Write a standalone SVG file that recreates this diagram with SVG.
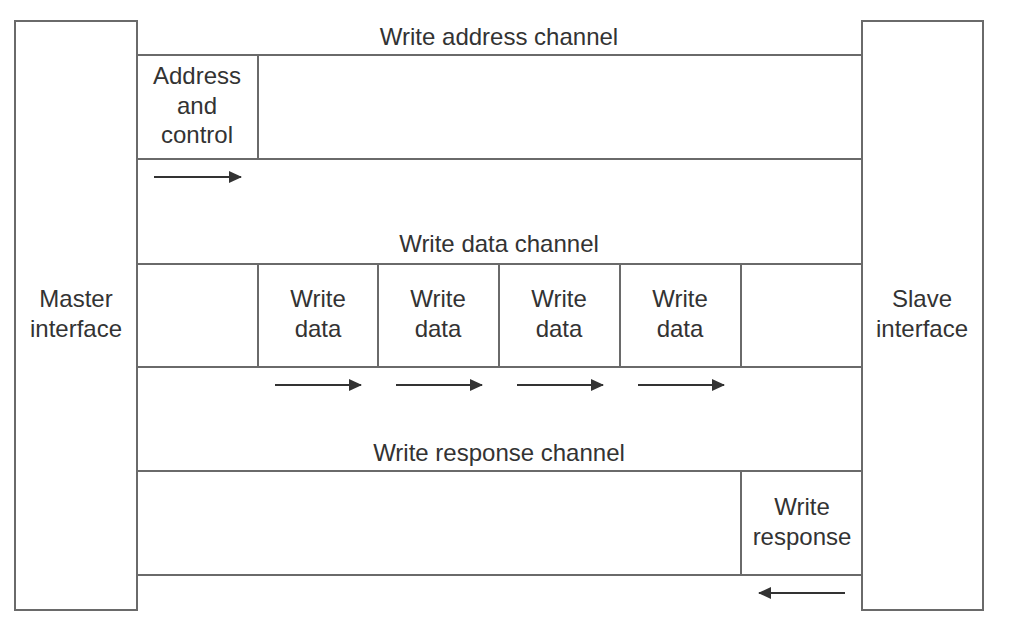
<svg xmlns="http://www.w3.org/2000/svg" width="1024" height="623" viewBox="0 0 1024 623">
<defs>
<style>
.box{fill:#fff;stroke:#6a6a6a;stroke-width:2}
.ln{stroke:#6a6a6a;stroke-width:2;fill:none}
.t{font-family:"Liberation Sans",Arial,sans-serif;font-size:24px;fill:#333;text-anchor:middle}
.ar{stroke:#333;stroke-width:2;fill:none}
</style>
<marker id="ah" markerWidth="13" markerHeight="12" refX="12" refY="6" orient="auto" markerUnits="userSpaceOnUse" viewBox="0 0 13 12">
<path d="M0,0 L13,6 L0,12 Z" fill="#333"/>
</marker>
</defs>
<rect width="1024" height="623" fill="#fff"/>
<g id="master">
<rect class="box" x="15" y="21" width="122" height="589"/>
<text class="t" x="76" y="307">Master</text>
<text class="t" x="76" y="337">interface</text>
</g>
<g id="slave">
<rect class="box" x="862" y="21" width="121" height="589"/>
<text class="t" x="922" y="307">Slave</text>
<text class="t" x="922" y="337">interface</text>
</g>
<g id="address-channel">
<text class="t" x="499" y="45">Write address channel</text>
<line class="ln" x1="137" y1="55" x2="862" y2="55"/>
<line class="ln" x1="137" y1="159" x2="862" y2="159"/>
<line class="ln" x1="258" y1="55" x2="258" y2="159"/>
</g>
<g id="address-control">
<text class="t" x="197" y="84">Address</text>
<text class="t" x="197" y="114">and</text>
<text class="t" x="197" y="143">control</text>
</g>
<g id="data-channel">
<text class="t" x="499" y="252">Write data channel</text>
<line class="ln" x1="137" y1="264" x2="862" y2="264"/>
<line class="ln" x1="137" y1="367" x2="862" y2="367"/>
<line class="ln" x1="258" y1="264" x2="258" y2="367"/>
<line class="ln" x1="378" y1="264" x2="378" y2="367"/>
<line class="ln" x1="499" y1="264" x2="499" y2="367"/>
<line class="ln" x1="620" y1="264" x2="620" y2="367"/>
<line class="ln" x1="741" y1="264" x2="741" y2="367"/>
</g>
<g id="wd1"><text class="t" x="318" y="307">Write</text><text class="t" x="318" y="337">data</text></g>
<g id="wd2"><text class="t" x="438" y="307">Write</text><text class="t" x="438" y="337">data</text></g>
<g id="wd3"><text class="t" x="559" y="307">Write</text><text class="t" x="559" y="337">data</text></g>
<g id="wd4"><text class="t" x="680" y="307">Write</text><text class="t" x="680" y="337">data</text></g>
<g id="response-channel">
<text class="t" x="499" y="461">Write response channel</text>
<line class="ln" x1="137" y1="471" x2="862" y2="471"/>
<line class="ln" x1="137" y1="575" x2="862" y2="575"/>
<line class="ln" x1="741" y1="471" x2="741" y2="575"/>
</g>
<g id="write-response">
<text class="t" x="802" y="515">Write</text>
<text class="t" x="802" y="545">response</text>
</g>
<g id="connectors">
<line class="ar" x1="154" y1="177" x2="241" y2="177" marker-end="url(#ah)"/>
<line class="ar" x1="275" y1="385" x2="361" y2="385" marker-end="url(#ah)"/>
<line class="ar" x1="396" y1="385" x2="482" y2="385" marker-end="url(#ah)"/>
<line class="ar" x1="517" y1="385" x2="603" y2="385" marker-end="url(#ah)"/>
<line class="ar" x1="638" y1="385" x2="724" y2="385" marker-end="url(#ah)"/>
<line class="ar" x1="845" y1="593" x2="759" y2="593" marker-end="url(#ah)"/>
</g>
</svg>
